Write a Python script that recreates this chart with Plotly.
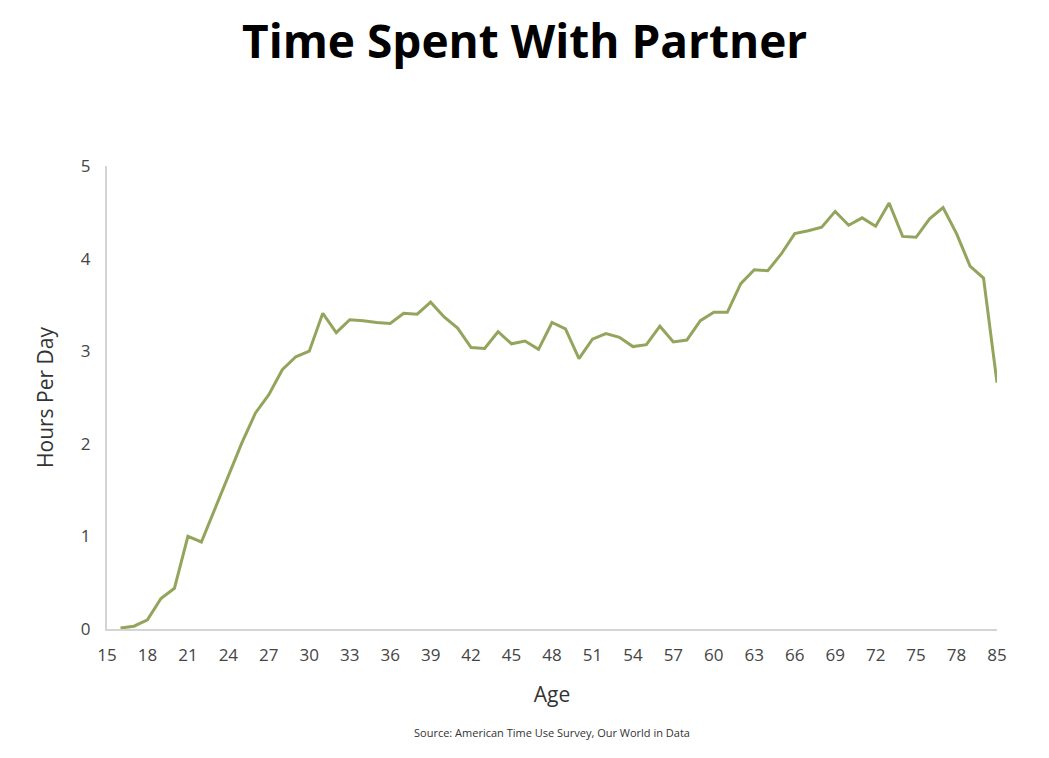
import plotly.graph_objects as go

ages = [str(a) for a in range(15, 81)] + ["85"]
hours = [None,
         0.01, 0.03, 0.10, 0.33, 0.44, 1.00, 0.94, 1.30, 1.66, 2.01,   # 16-25
         2.33, 2.53, 2.80, 2.94, 3.00, 3.41, 3.20, 3.34, 3.33, 3.31,   # 26-35
         3.30, 3.41, 3.40, 3.53, 3.37, 3.25, 3.04, 3.03, 3.21, 3.08,   # 36-45
         3.11, 3.02, 3.31, 3.24, 2.92, 3.13, 3.19, 3.15, 3.05, 3.07,   # 46-55
         3.27, 3.10, 3.12, 3.33, 3.42, 3.42, 3.73, 3.88, 3.87, 4.05,   # 56-65
         4.27, 4.30, 4.34, 4.51, 4.36, 4.44, 4.35, 4.60, 4.24, 4.23,   # 66-75
         4.43, 4.55, 4.27, 3.92, 3.79,                                   # 76-80
         2.66]                                                           # 85
tick_labels = ages[::3]
y_ticks = [0, 1, 2, 3, 4, 5]

title_text = "Time Spent With Partner"
source_text = "Source: American Time Use Survey, Our World in Data"

fig = go.Figure()
fig.add_trace(go.Scatter(
    x=ages, y=hours, mode="lines",
    line=dict(color="#93A55C", width=3),
    connectgaps=False, hoverinfo="x+y", showlegend=False,
))

fig.update_layout(
    width=1033, height=742,
    margin=dict(l=99, r=44, t=158, b=121),
    paper_bgcolor="white", plot_bgcolor="white",
    font=dict(family="Open Sans, Lato, sans-serif", color="#444444"),
    xaxis=dict(
        type="category", categoryorder="array", categoryarray=ages,
        tickmode="array", tickvals=tick_labels, ticktext=tick_labels,
        showgrid=False, showline=True, linecolor="#d4d4d4", linewidth=2,
        ticks="", tickfont=dict(size=17, color="#444444"), ticklabelstandoff=10,
        title=dict(text="Age", font=dict(size=21, color="#333333"), standoff=22),
        zeroline=False,
    ),
    yaxis=dict(
        range=[0, 5], tickvals=y_ticks,
        showgrid=False, showline=True, linecolor="#d4d4d4", linewidth=2,
        ticks="", tickfont=dict(size=17, color="#444444"), ticklabelstandoff=11,
        title=dict(text="Hours Per Day", font=dict(size=21, color="#333333"), standoff=22),
        zeroline=False,
    ),
    annotations=[
        dict(
            text="<b>" + title_text + "</b>", xref="paper", yref="paper",
            x=0.5 - 28 / 890, y=1 + (158 - 32) / 463,
            xanchor="center", yanchor="middle", showarrow=False,
            font=dict(size=46, color="#000000", family="Open Sans, sans-serif"),
        ),
        dict(
            text=source_text, xref="paper", yref="paper", x=0.5, y=-0.224,
            xanchor="center", yanchor="middle", showarrow=False,
            font=dict(size=11, color="#333333"),
        ),
    ],
)

fig.write_html("out.html")
